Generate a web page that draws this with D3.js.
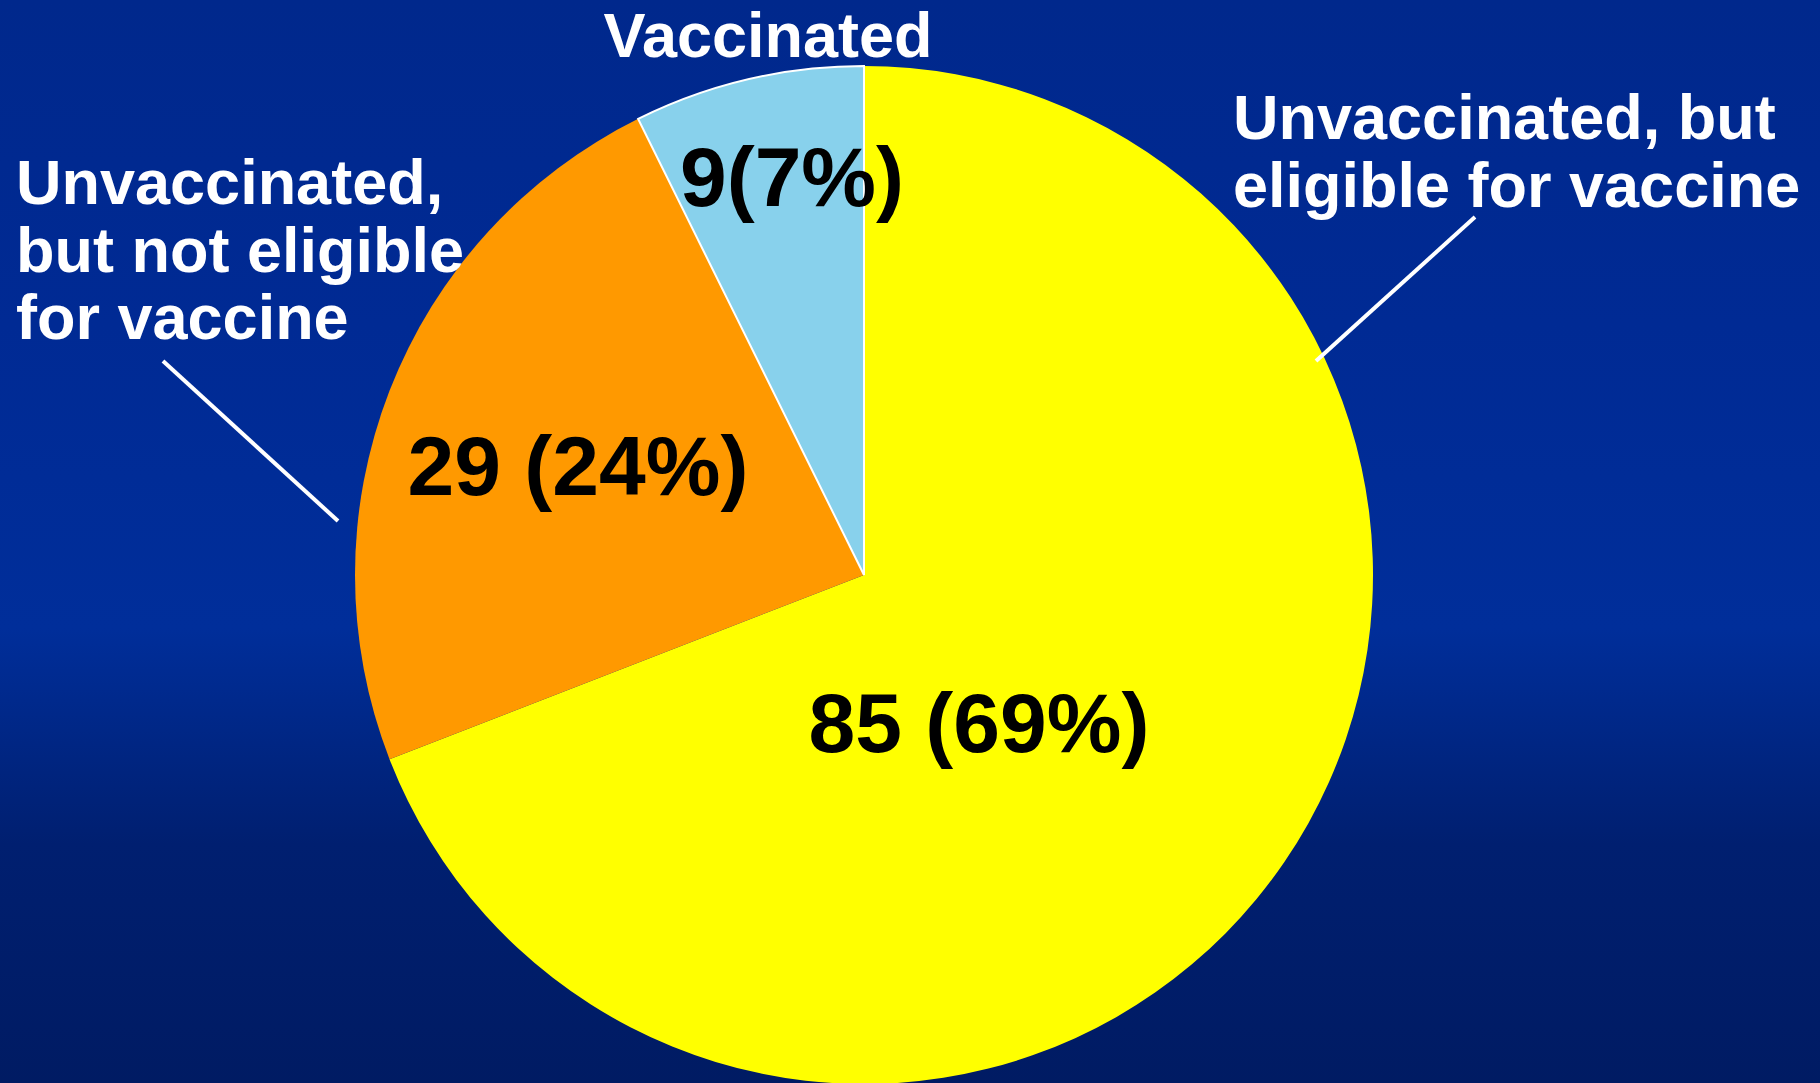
<!DOCTYPE html>
<html>
<head>
<meta charset="utf-8">
<script src="https://cdn.jsdelivr.net/npm/d3@7"></script>
<style>
  html, body { margin: 0; padding: 0; background: #002488; }
  svg { display: block; }
  text { font-family: "Liberation Sans", Arial, sans-serif; font-weight: bold; }
</style>
</head>
<body>
<script>
// ---- data ----
const categories = ["Unvaccinated, but eligible for vaccine", "Unvaccinated, but not eligible for vaccine", "Vaccinated"];
const counts = [85, 29, 9];
const valueLabels = ["85 (69%)", "29 (24%)", "9(7%)"];
const sliceColors = ["#FFFF00", "#FF9900", "#88D1EC"];

const W = 1820, H = 1083;
const cx = 864, cy = 575, R = 509;

const svg = d3.select("body").append("svg").attr("width", W).attr("height", H);

// background gradient
const defs = svg.append("defs");
const lg = defs.append("linearGradient").attr("id", "bg").attr("x1", 0).attr("y1", 0).attr("x2", 0).attr("y2", 1);
[["0%", "#00288c"], ["30%", "#002a94"], ["58%", "#002e9a"], ["78%", "#001f70"], ["100%", "#001b63"]]
  .forEach(([o, c]) => lg.append("stop").attr("offset", o).attr("stop-color", c));
svg.append("rect").attr("width", W).attr("height", H).attr("fill", "url(#bg)");

const pie = d3.pie().sort(null).value(d => d)(counts);
const arc = d3.arc().innerRadius(0).outerRadius(R);

const g = svg.append("g").attr("transform", `translate(${cx},${cy})`);
g.selectAll("path").data(pie).join("path")
  .attr("d", arc)
  .attr("fill", (d, i) => sliceColors[i])
  .attr("stroke", (d, i) => i === 2 ? "#ffffff" : "none")
  .attr("stroke-width", 2);

// value labels inside slices
const valuePos = [[979, 752], [578, 495], [792, 206]];
svg.selectAll("text.val").data(valueLabels).join("text")
  .attr("class", "val")
  .attr("x", (d, i) => valuePos[i][0])
  .attr("y", (d, i) => valuePos[i][1])
  .attr("text-anchor", "middle")
  .attr("font-size", 84)
  .attr("fill", "#000")
  .text(d => d);

// category labels
const labelLines = [
  ["Unvaccinated, but", "eligible for vaccine"],
  ["Unvaccinated,", "but not eligible", "for vaccine"],
  ["Vaccinated"]
];
const labelPos = [
  { x: 1233, y: 139, anchor: "start" },
  { x: 16, y: 204, anchor: "start" },
  { x: 768, y: 57, anchor: "middle" }
];
labelLines.forEach((lines, i) => {
  const t = svg.append("text")
    .attr("x", labelPos[i].x).attr("y", labelPos[i].y)
    .attr("text-anchor", labelPos[i].anchor)
    .attr("font-size", 63).attr("fill", "#fff");
  lines.forEach((ln, j) => {
    t.append("tspan").attr("x", labelPos[i].x).attr("dy", j === 0 ? 0 : 67.5).text(ln);
  });
});

// leader lines
const leaders = [
  [[1475, 217], [1316, 361]],
  [[163, 361], [338, 521]]
];
svg.selectAll("line.lead").data(leaders).join("line")
  .attr("class", "lead")
  .attr("x1", d => d[0][0]).attr("y1", d => d[0][1])
  .attr("x2", d => d[1][0]).attr("y2", d => d[1][1])
  .attr("stroke", "#fff").attr("stroke-width", 4);
</script>
</body>
</html>
